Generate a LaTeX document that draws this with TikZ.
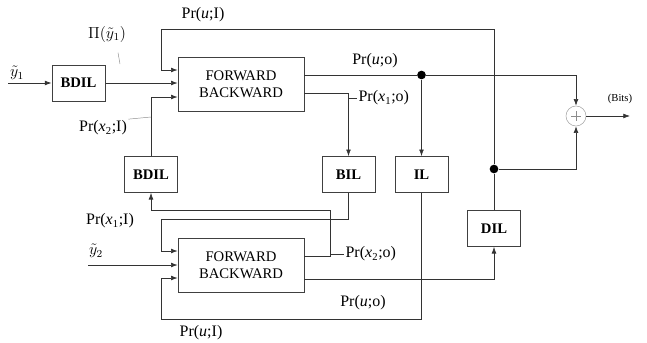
\documentclass[tikz,border=0pt]{standalone}
\usepackage{fontspec}
\setmainfont{Liberation Serif}
\usetikzlibrary{arrows.meta,positioning,calc}

\begin{document}
\begin{tikzpicture}[
  x=0.75pt,y=-0.75pt,
  font=\fontsize{11}{13}\selectfont,>={Latex[length=5pt,width=3.6pt]},
  blk/.style={draw=black!75,line width=0.5pt,minimum width=40pt,minimum height=27pt,
              font=\fontsize{11}{13}\selectfont\bfseries},
  fbblk/.style={draw=black!75,line width=0.5pt,minimum width=94.5pt,minimum height=40.5pt,
                align=center},
  ln/.style={draw=black!80,line width=0.5pt},
  fl/.style={ln,->},
  lbl/.style={inner sep=1pt,font=\fontsize{12}{14}\selectfont},
  jn/.style={circle,fill=black,inner sep=0pt,minimum size=6.5pt},
  sumc/.style={circle,draw=black!35,line width=0.4pt,minimum size=15pt,inner sep=0pt,
               path picture={\draw[black!45,line width=0.4pt]
                 ([yshift=3.5pt]path picture bounding box.center) -- ([yshift=-3.5pt]path picture bounding box.center)
                 ([xshift=-3.5pt]path picture bounding box.center) -- ([xshift=3.5pt]path picture bounding box.center);}},
  lead/.style={black!45,line width=0.35pt}
]
\useasboundingbox (0,0) rectangle (647,343);

% blocks
\node[fbblk] (fbA)   at (241,84)    {FORWARD\\BACKWARD};
\node[fbblk] (fbB)   at (241,265)   {FORWARD\\BACKWARD};
\node[blk]   (bdilA) at (78.5,83)   {BDIL};
\node[blk]   (bdilB) at (151,174.5) {BDIL};
\node[blk]   (bil)   at (348.5,174.5) {BIL};
\node[blk]   (il)    at (421.5,174.5) {IL};
\node[blk]   (dil)   at (494,228.5) {DIL};
\node[jn]    (dotA)  at (421.5,75)  {};
\node[jn]    (dotB)  at (494,169)   {};
\node[sumc]  (sum)   at (576,116)   {};

\coordinate (y1in) at (8,83);
\coordinate (y2in) at (88,265);
\coordinate (bits) at (630,116);
\coordinate (topl) at (161,29);
\coordinate (botl) at (161,319);
\coordinate (bilc) at (161,219);
\coordinate (x2oc) at (330,210);
\coordinate (piyl) at (120,64);
\coordinate (x2Il) at (151,117);

% labels
\node[lbl] (ly1)  at (17,73)   {$\tilde{y}_1$};
\node[lbl] (lpiy) at (107,34)  {$\Pi(\tilde{y}_1)$};
\node[lbl] (luIa) at (203,15)  {Pr(\textit{u};I)};
\node[lbl] (lx2I) at (103,128) {Pr(\textit{x}\textsubscript{2};I)};
\node[lbl] (luoA) at (375,61)  {Pr(\textit{u};o)};
\node[lbl,anchor=west] (lx1o) at (357,98) {Pr(\textit{x}\textsubscript{1};o)};
\node[lbl] (lx1I) at (110,221) {Pr(\textit{x}\textsubscript{1};I)};
\node[lbl] (ly2)  at (96,251)  {$\tilde{y}_2$};
\node[lbl,anchor=west] (lx2o) at (344,254) {Pr(\textit{x}\textsubscript{2};o)};
\node[lbl] (luoB) at (363,303) {Pr(\textit{u};o)};
\node[lbl] (luIb) at (201,333) {Pr(\textit{u};I)};
\node[lbl,font=\fontsize{8}{9}\selectfont] (lbits) at (620,99) {(Bits)};

% upper decoder
\draw[fl] (y1in) -- (bdilA);
\draw[fl] (bdilA) -- (bdilA -| fbA.west);
\draw[fl] (dotB) |- (topl) |- ($(fbA.west)+(0,-14)$);
\draw[fl] (bdilB) |- ($(fbA.west)+(0,13)$);
\draw[ln] (fbA.east |- dotA) -- (dotA);
\draw[fl] (dotA) -| (sum);
\draw[fl] (dotA) -- (il);
\draw[fl] ($(fbA.east)+(0,9)$) -| (bil);
\draw[ln] (bil.north |- lx1o.west) -- (lx1o.west);

% lower decoder
\draw[fl] (bil) |- (bilc) |- ($(fbB.west)+(0,-14)$);
\draw[fl] ($(fbB.east)+(0,-9)$) -| (x2oc) -| (bdilB);
\draw[ln] (x2oc |- lx2o.west) -- (lx2o.west);
\draw[fl] (y2in) -- (fbB.west);
\draw[fl] ($(fbB.east)+(0,14)$) -| (dil);
\draw[fl] (il) |- (botl) |- ($(fbB.west)+(0,13)$);
\draw[ln] (dil) -- (dotB);
\draw[fl] (dotB) -| (sum);
\draw[fl] (sum) -- (bits);

% leaders
\draw[lead] ($(lpiy.south)+(11,9)$) -- (piyl);
\draw[lead] (lx2I.north east) -- (x2Il);
\end{tikzpicture}
\end{document}
